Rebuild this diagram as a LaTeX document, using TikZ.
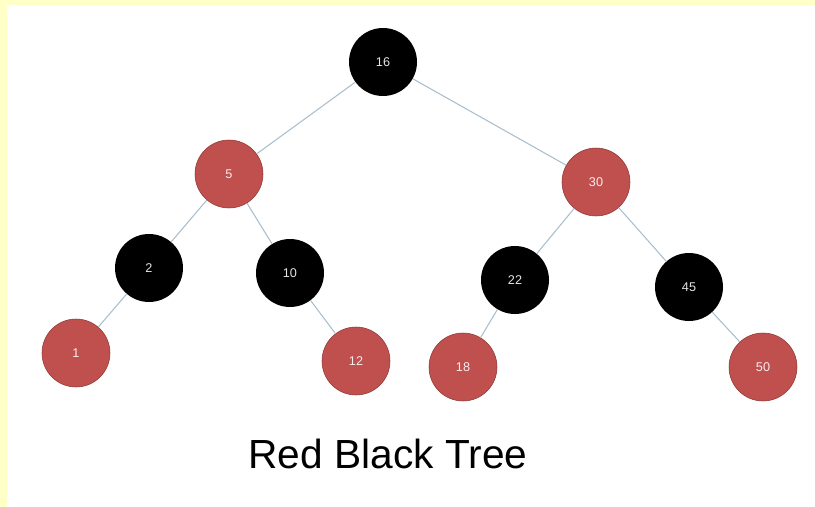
\documentclass[tikz,border=0pt]{standalone}
\usepackage{fontspec}
\setmainfont{Liberation Sans}
\usetikzlibrary{positioning}
\definecolor{rbred}{HTML}{C0504D}
\definecolor{rbredline}{HTML}{8C3836}
\definecolor{edgeblue}{HTML}{A9BFCF}
\definecolor{paper}{HTML}{FFFFC8}

\begin{document}
\begin{tikzpicture}[
      x=0.75pt, y=-0.75pt,
      rednode/.style={circle, draw=rbredline, fill=rbred, minimum size=51pt,
                      inner sep=0pt, font=\fontsize{9.5}{10}\selectfont, text=white!90!rbred},
      blacknode/.style={circle, fill=black, minimum size=51pt,
                        inner sep=0pt, font=\fontsize{9.5}{10}\selectfont, text=white!90!black},
      edge/.style={draw=edgeblue, line width=0.8pt}
    ]
      % Background
      \useasboundingbox (0,0) rectangle (815,507);
      \fill[paper] (0,0) rectangle (815,507);
      \fill[white] (7,5) rectangle (815,507);

      % Nodes
      \node[blacknode] (n16) at (383, 62) {16};
      \node[rednode] (n5) at (229, 174) {5};
      \node[rednode] (n30) at (596, 182) {30};
      \node[blacknode] (n2) at (149, 268) {2};
      \node[blacknode] (n10) at (290, 273) {10};
      \node[blacknode] (n22) at (515, 280) {22};
      \node[blacknode] (n45) at (689, 287) {45};
      \node[rednode] (n1) at (76, 353) {1};
      \node[rednode] (n12) at (356, 361) {12};
      \node[rednode] (n18) at (463, 367) {18};
      \node[rednode] (n50) at (763, 367) {50};

      % Edges
      \draw[edge] (n16) -- (n5);
      \draw[edge] (n16) -- (n30);
      \draw[edge] (n5) -- (n2);
      \draw[edge] (n5) -- (n10);
      \draw[edge] (n30) -- (n22);
      \draw[edge] (n30) -- (n45);
      \draw[edge] (n2) -- (n1);
      \draw[edge] (n10) -- (n12);
      \draw[edge] (n22) -- (n18);
      \draw[edge] (n45) -- (n50);

      % Caption
      \node[font=\fontsize{30.5}{33}\selectfont] (caption) at (388, 454) {Red Black Tree};
    \end{tikzpicture}
\end{document}
